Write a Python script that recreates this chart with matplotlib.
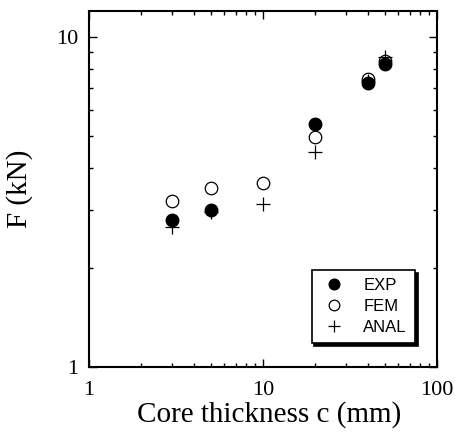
import matplotlib
matplotlib.use("Agg")
import matplotlib.pyplot as plt
from matplotlib.ticker import LogLocator, FixedLocator, NullFormatter

# Core thickness (mm) and failure load (kN)
thick_exp = [3, 5, 20, 40, 50]
load_exp = [2.79, 2.99, 5.45, 7.24, 8.27]

thick_fem = [3, 5, 10, 20, 40, 50]
load_fem = [3.19, 3.50, 3.60, 4.98, 7.47, 8.46]

thick_anal = [3, 5, 10, 20, 40, 50]
load_anal = [2.66, 2.95, 3.12, 4.49, 7.35, 8.68]

x_ticks = [1, 10, 100]
x_labels = ["1", "10", "100"]
y_ticks = [1, 10]
y_labels = ["1", "10"]

serif = "Liberation Serif"
sans = "Liberation Sans"

fig = plt.figure(figsize=(4.55, 4.32), dpi=100)
ax = fig.add_axes([0.1956, 0.1505, 0.7648, 0.824])

ax.set_xscale("log")
ax.set_yscale("log")
ax.set_xlim(1, 100)
ax.set_ylim(1, 12)

ax.plot(thick_anal, load_anal, linestyle="none", marker="+", markersize=10,
        markeredgewidth=0.9, color="black", label="ANAL", zorder=3)
ax.plot(thick_exp, load_exp, linestyle="none", marker="o", markersize=9,
        markerfacecolor="black", markeredgecolor="black", label="EXP", zorder=4)
ax.plot(thick_fem, load_fem, linestyle="none", marker="o", markersize=9,
        markerfacecolor="none", markeredgecolor="black", markeredgewidth=0.9,
        label="FEM", zorder=5)

ax.xaxis.set_major_locator(FixedLocator(x_ticks))
ax.set_xticklabels(x_labels)
ax.yaxis.set_major_locator(FixedLocator(y_ticks))
ax.set_yticklabels(y_labels)
ax.xaxis.set_minor_locator(LogLocator(base=10, subs=range(2, 10)))
ax.yaxis.set_minor_locator(LogLocator(base=10, subs=range(2, 10)))
ax.xaxis.set_minor_formatter(NullFormatter())
ax.yaxis.set_minor_formatter(NullFormatter())

ax.tick_params(which="both", direction="in", top=True, right=True, width=1.0)
ax.tick_params(which="major", length=6, labelsize=16)
ax.tick_params(axis="x", which="major", pad=10)
ax.tick_params(axis="y", which="major", pad=8)
ax.tick_params(which="minor", length=3)
for lab in ax.get_xticklabels() + ax.get_yticklabels():
    lab.set_fontfamily(serif)

for sp in ax.spines.values():
    sp.set_linewidth(1.5)

ax.set_xlabel("Core thickness c (mm)", fontsize=21, family=serif)
ax.xaxis.set_label_coords(0.518, -0.095)
ax.set_ylabel("F (kN)", fontsize=21, family=serif)
ax.yaxis.set_label_coords(-0.161, 0.5)

handles, labels = ax.get_legend_handles_labels()
order = [labels.index(n) for n in ["EXP", "FEM", "ANAL"]]
leg = ax.legend([handles[i] for i in order], [labels[i] for i in order],
                loc="lower right", bbox_to_anchor=(0.937, 0.067),
                borderaxespad=0, markerscale=0.85,
                prop={"family": sans, "size": 12}, frameon=True, fancybox=False,
                shadow={"color": "black", "alpha": 1.0, "ox": 2, "oy": -2},
                edgecolor="black", framealpha=1, borderpad=0.5,
                handletextpad=0.9, labelspacing=0.35, handlelength=1.7)
leg.get_frame().set_linewidth(1.2)

fig.savefig("out.png", dpi=100)
